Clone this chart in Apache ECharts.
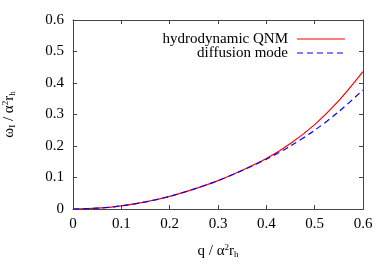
<!DOCTYPE html>
<html><head><meta charset="utf-8">
<script src="https://cdn.jsdelivr.net/npm/echarts@6/dist/echarts.min.js"></script>
<style>html,body{margin:0;padding:0;background:#fff}#c{width:389px;height:271px}</style>
</head><body><div id="c"></div>
<script>
var qValues = [0, 0.05, 0.1, 0.15, 0.2, 0.25, 0.3, 0.35, 0.4, 0.45, 0.5, 0.55, 0.6];
var qnmValues = [0, 0.0025, 0.01, 0.0225, 0.04, 0.063, 0.09, 0.123, 0.16, 0.208, 0.268, 0.344, 0.436];
var diffValues = [0, 0.0025, 0.01, 0.0225, 0.04, 0.063, 0.09, 0.122, 0.158, 0.2, 0.25, 0.309, 0.378];
var xTicks = [0, 0.1, 0.2, 0.3, 0.4, 0.5, 0.6];
var yTicks = [0, 0.1, 0.2, 0.3, 0.4, 0.5, 0.6];
var seriesNames = ['hydrodynamic QNM', 'diffusion mode'];

var FONT = 'Liberation Serif';
var axisCol = '#444';
var G = {left:73, right:26, top:20, bottom:62};
function pairs(ys){ return qValues.map(function(q,i){ return [q, ys[i]]; }); }
function fmt(v){ var r = Math.round(v*10)/10; return String(r); }
var rich = {
  b: {fontFamily: FONT, fontSize: 15, color: '#000'},
  sub: {fontFamily: FONT, fontSize: 9, color: '#000', padding: [7,0,0,0]},
  sup: {fontFamily: FONT, fontSize: 9, color: '#000', padding: [0,0,7,0]}
};
var chart = echarts.init(document.getElementById('c'));
function axisBase(){
  return {type:'value', min:0, max:0.6, interval:0.1, show:true, gridIndex:0,
    axisLine:{show:true, onZero:false, lineStyle:{color:axisCol, width:1}},
    axisTick:{show:true, inside:true, length:4, lineStyle:{color:axisCol, width:1}},
    splitLine:{show:false}};
}
var xb = axisBase(), xt = axisBase(), yl = axisBase(), yr = axisBase();
Object.assign(xb, {position:'bottom',
  axisLabel:{fontFamily:FONT, fontSize:15, color:'#000', margin:8, formatter:fmt},
  name:'{b|q / α}{sup|2}{b|r}{sub|h}', nameLocation:'middle', nameGap:34,
  nameTextStyle:{rich:rich}});
Object.assign(xt, {position:'top', axisLabel:{show:false}});
Object.assign(yl, {position:'left',
  axisLabel:{fontFamily:FONT, fontSize:15, color:'#000', margin:9, formatter:fmt},
  name:'{b|ω}{sub|I}{b| / α}{sup|2}{b|r}{sub|h}', nameLocation:'middle', nameGap:56,
  nameTextStyle:{rich:rich}});
Object.assign(yr, {position:'right', axisLabel:{show:false}});
var W = 389, H = 271;
chart.setOption({
  animation:false,
  grid:{left:G.left, right:G.right, top:G.top, bottom:G.bottom, outerBoundsMode:'none', containLabel:false},
  legend:{show:false},
  xAxis:[xb, xt],
  yAxis:[yl, yr],
  series:[
    {name:seriesNames[0], type:'line', data:pairs(qnmValues), smooth:0.3, showSymbol:false,
      lineStyle:{color:'#ff0000', width:1.2}, z:3},
    {name:seriesNames[1], type:'line', data:pairs(diffValues), smooth:0.3, showSymbol:false,
      lineStyle:{color:'#0000ff', width:1.2, type:[6,4]}, z:4}
  ],
  graphic:[
    {type:'rect', shape:{x:G.left+0.5, y:G.top+0.5, width:W-G.left-G.right, height:H-G.top-G.bottom},
      style:{fill:'none', stroke:axisCol, lineWidth:1}, silent:true, z:0},
    {type:'text', x:288, y:39, style:{text:seriesNames[0], fontFamily:FONT, fontSize:15, fill:'#000', align:'right', verticalAlign:'middle'}},
    {type:'text', x:288, y:53, style:{text:seriesNames[1], fontFamily:FONT, fontSize:15, fill:'#000', align:'right', verticalAlign:'middle'}},
    {type:'line', shape:{x1:297, y1:39, x2:345, y2:39}, style:{stroke:'#ff0000', lineWidth:1.2}},
    {type:'line', shape:{x1:297, y1:53, x2:345, y2:53}, style:{stroke:'#0000ff', lineWidth:1.2, lineDash:[6,4]}}
  ]
});
</script></body></html>
